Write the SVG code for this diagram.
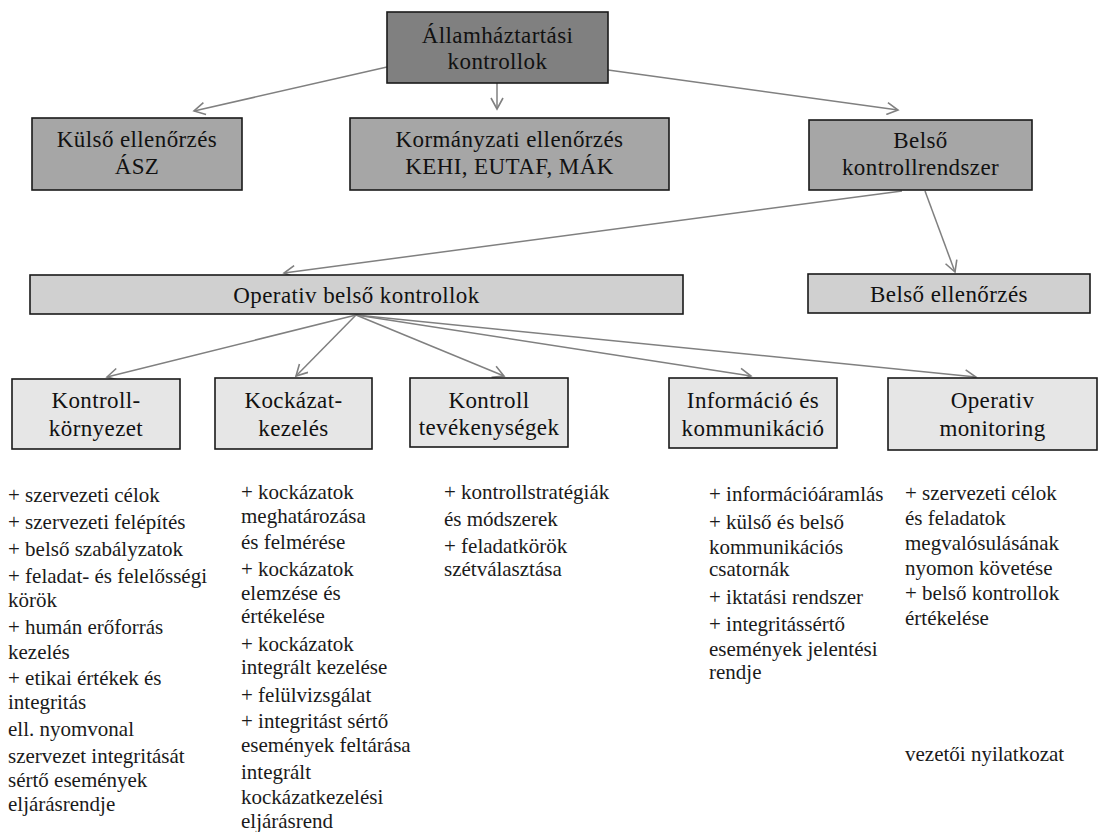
<svg xmlns="http://www.w3.org/2000/svg" width="1110" height="832" viewBox="0 0 1110 832">
<defs>
<style>
.box{stroke:#1a1a1a;stroke-width:1.6}
.dark{fill:#808080}
.mid{fill:#a6a6a6}
.light{fill:#d0d0d0}
.pale{fill:#e6e6e6}
.bt{font-family:'Liberation Serif','DejaVu Serif',serif;font-size:23px;letter-spacing:0.4px;fill:#111;text-anchor:middle}
.lt{font-family:'Liberation Serif','DejaVu Serif',serif;font-size:21px;fill:#1a1a1a}
.conn line{stroke:#808080;stroke-width:1.5;fill:none;marker-end:url(#arr)}
</style>
<marker id="arr" markerUnits="userSpaceOnUse" markerWidth="14" markerHeight="14" viewBox="0 0 14 14" refX="12" refY="7" orient="auto">
<path d="M1,1 L12,7 L1,13" fill="none" stroke="#808080" stroke-width="1.6"/>
</marker>
</defs>
<rect width="1110" height="832" fill="#fff"/>
<g id="connectors" class="conn">
<line x1="387" y1="67" x2="194" y2="111"/>
<line x1="497" y1="83" x2="497" y2="109"/>
<line x1="608" y1="70" x2="898" y2="110"/>
<line x1="902" y1="191" x2="284" y2="273"/>
<line x1="925" y1="191" x2="955" y2="272"/>
<line x1="356" y1="315" x2="107" y2="377"/>
<line x1="356" y1="315" x2="296" y2="376"/>
<line x1="356" y1="315" x2="504" y2="376"/>
<line x1="356" y1="315" x2="751" y2="376"/>
<line x1="356" y1="315" x2="976" y2="377"/>
</g>
<g id="n-top">
<rect class="box dark" x="387" y="12" width="221" height="71"/>
<text class="bt" x="497.5" y="43">Államháztartási</text>
<text class="bt" x="497.5" y="69">kontrollok</text>
</g>
<g id="n-kulso">
<rect class="box mid" x="32" y="118" width="210" height="72"/>
<text class="bt" x="137" y="147">Külső ellenőrzés</text>
<text class="bt" x="137" y="174">ÁSZ</text>
</g>
<g id="n-kormanyzati">
<rect class="box mid" x="350" y="118" width="319" height="72"/>
<text class="bt" x="509.5" y="147">Kormányzati ellenőrzés</text>
<text class="bt" x="509.5" y="174">KEHI, EUTAF, MÁK</text>
</g>
<g id="n-belsokr">
<rect class="box mid" x="809" y="120" width="223" height="70"/>
<text class="bt" x="920.5" y="148">Belső</text>
<text class="bt" x="920.5" y="175">kontrollrendszer</text>
</g>
<g id="n-operativ">
<rect class="box light" x="30" y="275" width="653" height="39"/>
<text class="bt" x="356.5" y="303">Operativ belső kontrollok</text>
</g>
<g id="n-belsoell">
<rect class="box light" x="808" y="274" width="282" height="39"/>
<text class="bt" x="949" y="302">Belső ellenőrzés</text>
</g>
<g id="n-kornyezet">
<rect class="box pale" x="12" y="379" width="168" height="70"/>
<text class="bt" x="96" y="408">Kontroll-</text>
<text class="bt" x="96" y="436">környezet</text>
</g>
<g id="n-kockazat">
<rect class="box pale" x="215" y="378" width="157" height="71"/>
<text class="bt" x="293.5" y="408">Kockázat-</text>
<text class="bt" x="293.5" y="436">kezelés</text>
</g>
<g id="n-tevekenyseg">
<rect class="box pale" x="410" y="378" width="158" height="69"/>
<text class="bt" x="489" y="408">Kontroll</text>
<text class="bt" x="489" y="435">tevékenységek</text>
</g>
<g id="n-informacio">
<rect class="box pale" x="669" y="378" width="168" height="70"/>
<text class="bt" x="753" y="408">Információ és</text>
<text class="bt" x="753" y="436">kommunikáció</text>
</g>
<g id="n-monitoring">
<rect class="box pale" x="888" y="378" width="209" height="72"/>
<text class="bt" x="992.5" y="408">Operativ</text>
<text class="bt" x="992.5" y="436">monitoring</text>
</g>
<g id="list-1" class="lt">
<text x="8" y="502">+ szervezeti célok</text>
<text x="8" y="529">+ szervezeti felépítés</text>
<text x="8" y="556">+ belső szabályzatok</text>
<text x="8" y="583">+ feladat- és felelősségi</text>
<text x="8" y="607">körök</text>
<text x="8" y="634">+ humán erőforrás</text>
<text x="8" y="659">kezelés</text>
<text x="8" y="685">+ etikai értékek és</text>
<text x="8" y="709">integritás</text>
<text x="8" y="736">ell. nyomvonal</text>
<text x="8" y="763">szervezet integritását</text>
<text x="8" y="787">sértő események</text>
<text x="8" y="811">eljárásrendje</text>
</g>
<g id="list-2" class="lt">
<text x="241" y="499">+ kockázatok</text>
<text x="241" y="523">meghatározása</text>
<text x="241" y="549">és felmérése</text>
<text x="241" y="576">+ kockázatok</text>
<text x="241" y="600">elemzése és</text>
<text x="241" y="623">értékelése</text>
<text x="241" y="651">+ kockázatok</text>
<text x="241" y="674">integrált kezelése</text>
<text x="241" y="702">+ felülvizsgálat</text>
<text x="241" y="728">+ integritást sértő</text>
<text x="241" y="752">események feltárása</text>
<text x="241" y="779">integrált</text>
<text x="241" y="804">kockázatkezelési</text>
<text x="241" y="828">eljárásrend</text>
</g>
<g id="list-3" class="lt">
<text x="444" y="499">+ kontrollstratégiák</text>
<text x="444" y="526">és módszerek</text>
<text x="444" y="553">+ feladatkörök</text>
<text x="444" y="576">szétválasztása</text>
</g>
<g id="list-4" class="lt">
<text x="709" y="501">+ információáramlás</text>
<text x="709" y="529">+ külső és belső</text>
<text x="709" y="554">kommunikációs</text>
<text x="709" y="576">csatornák</text>
<text x="709" y="604">+ iktatási rendszer</text>
<text x="709" y="631">+ integritássértő</text>
<text x="709" y="656">események jelentési</text>
<text x="709" y="679">rendje</text>
</g>
<g id="list-5" class="lt">
<text x="905" y="500">+ szervezeti célok</text>
<text x="905" y="525">és feladatok</text>
<text x="905" y="550">megvalósulásának</text>
<text x="905" y="575">nyomon követése</text>
<text x="905" y="600">+ belső kontrollok</text>
<text x="905" y="625">értékelése</text>
<text x="905" y="761">vezetői nyilatkozat</text>
</g>
</svg>
